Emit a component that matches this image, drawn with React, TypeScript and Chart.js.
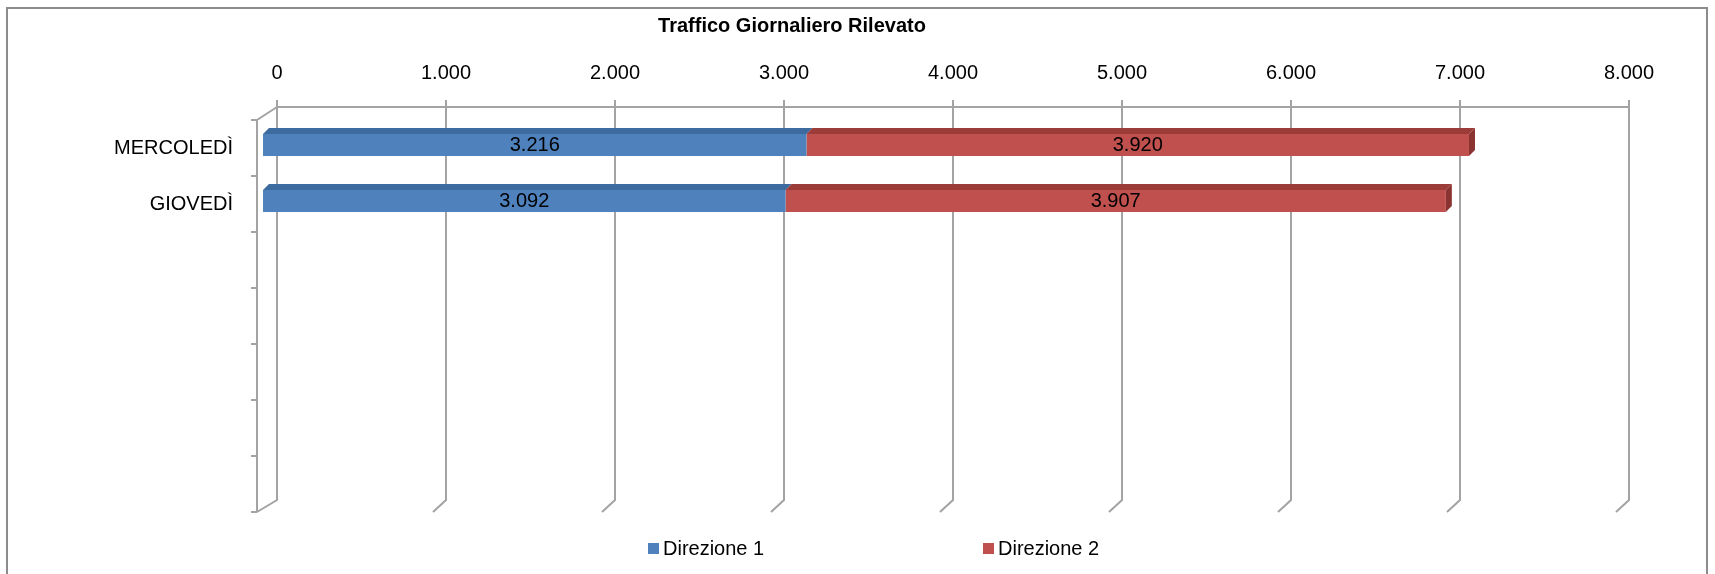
import React, { useEffect, useRef } from "react";
import { Chart, registerables } from "chart.js";

Chart.register(...registerables);

const titleText = "Traffico Giornaliero Rilevato";
const categories = ["MERCOLEDÌ", "GIOVEDÌ", "", "", "", "", ""];
const seriesNames = ["Direzione 1", "Direzione 2"];
const direzione1 = [3216, 3092, null, null, null, null, null];
const direzione2 = [3920, 3907, null, null, null, null, null];
const xMin = 0;
const xMax = 8000;
const xStep = 1000;

const BLUE = "#4F81BD";
const RED = "#C0504D";
const BLUE_TOP = "#3D6A9F";
const RED_TOP = "#9C3C39";
const RED_SIDE = "#8A3330";
const GRID = "#a3a3a3";
const FONT = "'Liberation Sans', Arial, Helvetica, sans-serif";
const FS = 20;

const fmt = (v: number) => String(Math.round(v)).replace(/\B(?=(\d{3})+(?!\d))/g, ".");

const BACK_DX = 14; // back wall offset from bar plane
const DEPTH = 6;

const threeDPlugin = {
  id: "threeD",
  beforeDatasetsDraw(chart: any) {
    const ctx = chart.ctx;
    const xs = chart.scales.x;
    const ys = chart.scales.y;
    const topY = ys.top - 10;
    const bottomY = ys.bottom - 9;
    ctx.save();
    ctx.strokeStyle = GRID;
    ctx.lineWidth = 2;
    for (let v = xMin; v <= xMax; v += xStep) {
      const X = Math.round(xs.getPixelForValue(v)) + BACK_DX;
      ctx.beginPath();
      ctx.moveTo(X, topY - 7);
      ctx.lineTo(X, bottomY);
      if (v === xMin) ctx.lineTo(X - 20, bottomY + 12);
      else ctx.lineTo(X - 13, bottomY + 12);
      ctx.stroke();
    }
    const X0 = Math.round(xs.getPixelForValue(xMin)) + BACK_DX;
    const X1 = Math.round(xs.getPixelForValue(xMax)) + BACK_DX;
    ctx.beginPath();
    ctx.moveTo(X0, topY);
    ctx.lineTo(X1, topY);
    ctx.stroke();
    const WX = X0 - 20;
    const n = categories.length;
    const slot = (ys.bottom - ys.top) / n;
    const wTop = ys.top + 3;
    const wBottom = ys.bottom + 3;
    ctx.beginPath();
    ctx.moveTo(X0, topY);
    ctx.lineTo(WX, wTop);
    ctx.lineTo(WX, wBottom);
    ctx.stroke();
    for (let k = 0; k <= n; k++) {
      const yy = Math.round(wTop + k * slot);
      ctx.beginPath();
      ctx.moveTo(WX - 6, yy);
      ctx.lineTo(WX, yy);
      ctx.stroke();
    }
    ctx.restore();
  },
  afterDatasetsDraw(chart: any) {
    const ctx = chart.ctx;
    const nds = chart.data.datasets.length;
    ctx.save();
    for (let d = 0; d < nds; d++) {
      const meta = chart.getDatasetMeta(d);
      meta.data.forEach((el: any, j: number) => {
        const raw = chart.data.datasets[d].data[j];
        if (raw === null || raw === undefined) return;
        const p = el.getProps(["x", "y", "base", "height"], true);
        const x0 = Math.min(p.x, p.base);
        const x1 = Math.max(p.x, p.base);
        const top = p.y - p.height / 2;
        const bottom = p.y + p.height / 2;
        ctx.fillStyle = d === 0 ? BLUE_TOP : RED_TOP;
        ctx.beginPath();
        ctx.moveTo(x0, top);
        ctx.lineTo(x1, top);
        ctx.lineTo(x1 + DEPTH, top - DEPTH);
        ctx.lineTo(x0 + DEPTH, top - DEPTH);
        ctx.closePath();
        ctx.fill();
        if (d === nds - 1) {
          ctx.fillStyle = RED_SIDE;
          ctx.beginPath();
          ctx.moveTo(x1, top);
          ctx.lineTo(x1 + DEPTH, top - DEPTH);
          ctx.lineTo(x1 + DEPTH, bottom - DEPTH);
          ctx.lineTo(x1, bottom);
          ctx.closePath();
          ctx.fill();
        }
        ctx.fillStyle = "#000";
        ctx.font = `${FS}px ${FONT}`;
        ctx.textAlign = "center";
        ctx.textBaseline = "middle";
        ctx.fillText(fmt(raw), (x0 + x1) / 2, p.y);
      });
    }
    ctx.restore();
  },
  afterDraw(chart: any) {
    const ctx = chart.ctx;
    ctx.save();
    ctx.strokeStyle = "#8c8c8c";
    ctx.lineWidth = 2;
    ctx.strokeRect(7, 8, 1700, 600);
    ctx.fillStyle = "#000";
    ctx.font = `bold ${FS}px ${FONT}`;
    ctx.textAlign = "center";
    ctx.textBaseline = "middle";
    ctx.fillText(titleText, 792, 26);
    const items = [
      { x: 648, color: BLUE, label: seriesNames[0] },
      { x: 983, color: RED, label: seriesNames[1] },
    ];
    ctx.font = `${FS}px ${FONT}`;
    ctx.textAlign = "left";
    items.forEach((it) => {
      ctx.fillStyle = it.color;
      ctx.fillRect(it.x, 543, 11, 11);
      ctx.fillStyle = "#000";
      ctx.fillText(it.label, it.x + 15, 549);
    });
    ctx.restore();
  },
};

export default function App() {
  const ref = useRef<HTMLCanvasElement | null>(null);
  useEffect(() => {
    document.body.style.margin = "0";
    const canvas = ref.current!;
    const chart = new Chart(canvas, {
      type: "bar",
      data: {
        labels: categories,
        datasets: [
          {
            label: seriesNames[0],
            data: direzione1 as any,
            backgroundColor: BLUE,
            barPercentage: 0.39,
            categoryPercentage: 1,
          },
          {
            label: seriesNames[1],
            data: direzione2 as any,
            backgroundColor: RED,
            barPercentage: 0.39,
            categoryPercentage: 1,
          },
        ],
      },
      options: {
        indexAxis: "y",
        animation: false,
        responsive: false,
        devicePixelRatio: 1,
        layout: { padding: { left: 0, right: 100, top: 0, bottom: 65 } },
        plugins: {
          legend: { display: false },
          title: { display: false },
          tooltip: { enabled: false },
        },
        scales: {
          x: {
            type: "linear",
            position: "top",
            stacked: true,
            min: xMin,
            max: xMax,
            border: { display: false },
            grid: { display: false, drawTicks: false },
            ticks: {
              stepSize: xStep,
              padding: 32,
              labelOffset: BACK_DX,
              color: "#000",
              font: { family: FONT, size: FS },
              callback: (v: any) => fmt(Number(v)),
            },
            afterFit: (s: any) => {
              s.height = 117;
            },
          },
          y: {
            stacked: true,
            border: { display: false },
            grid: { display: false, drawTicks: false },
            ticks: {
              padding: 30,
              labelOffset: 3,
              color: "#000",
              font: { family: FONT, size: FS },
              autoSkip: false,
            },
            afterFit: (s: any) => {
              s.width = 263;
            },
          },
        },
      },
      plugins: [threeDPlugin],
    } as any);
    return () => chart.destroy();
  }, []);
  return (
    <div style={{ width: 1715, height: 574 }}>
      <canvas ref={ref} width={1715} height={574} style={{ display: "block" }} />
    </div>
  );
}
